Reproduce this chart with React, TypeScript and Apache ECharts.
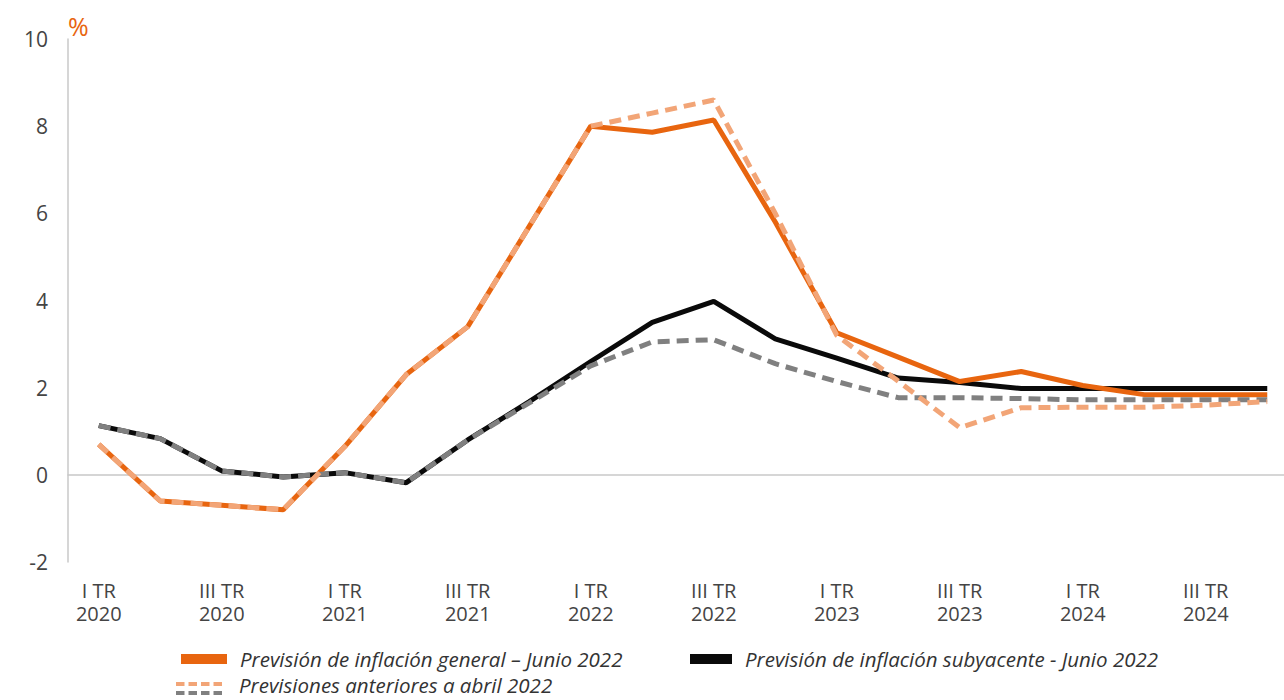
import React, { useEffect, useRef } from "react";
import * as echarts from "echarts";

const categories = [
  "I TR 2020", "II TR 2020", "III TR 2020", "IV TR 2020",
  "I TR 2021", "II TR 2021", "III TR 2021", "IV TR 2021",
  "I TR 2022", "II TR 2022", "III TR 2022", "IV TR 2022",
  "I TR 2023", "II TR 2023", "III TR 2023", "IV TR 2023",
  "I TR 2024", "II TR 2024", "III TR 2024", "IV TR 2024",
];

const generalJun22 = [0.7, -0.6, -0.7, -0.8, 0.65, 2.3, 3.4, 5.7, 8.0, 7.86, 8.14, 5.8, 3.26, 2.7, 2.14, 2.37, 2.05, 1.84, 1.84, 1.84];
const coreJun22 = [1.13, 0.83, 0.09, -0.05, 0.05, -0.18, 0.8, 1.68, 2.6, 3.5, 3.98, 3.12, 2.68, 2.22, 2.12, 1.98, 1.98, 1.98, 1.98, 1.98];
const generalApr22 = [0.7, -0.6, -0.7, -0.8, 0.65, 2.3, 3.4, 5.7, 8.0, 8.3, 8.6, 6.0, 3.2, 2.15, 1.08, 1.54, 1.55, 1.55, 1.6, 1.68];
const coreApr22 = [1.13, 0.83, 0.09, -0.05, 0.05, -0.18, 0.8, 1.65, 2.5, 3.05, 3.1, 2.55, 2.14, 1.77, 1.77, 1.75, 1.72, 1.72, 1.72, 1.72];

const yTicks = [-2, 0, 2, 4, 6, 8, 10];

const NAME_GEN = "Previsión de inflación general – Junio 2022";
const NAME_CORE = "Previsión de inflación subyacente - Junio 2022";
const NAME_PREV = "Previsiones anteriores a abril 2022";
const NAME_PREV_GEN = "Previsión general anterior (abril 2022)";
const NAME_PREV_CORE = "Previsión subyacente anterior (abril 2022)";

const ORANGE = "#E8650F";
const LIGHT_ORANGE = "#F2A577";
const GRAY = "#808080";
const BLACK = "#0A0A0A";
const FONT = "'Open Sans', 'Noto Sans', sans-serif";

export default function App() {
  const ref = useRef<HTMLDivElement>(null);

  useEffect(() => {
    document.body.style.margin = "0";
    if (!ref.current) return;
    const chart = echarts.init(ref.current, undefined, { renderer: "svg" });

    const legendText = {
      fontFamily: FONT,
      fontStyle: "italic",
      fontSize: 20.5,
      color: "#333333",
      padding: [0, 0, 0, 8],
    };

    const dashes = (y: number, color: string) =>
      [0, 1, 2, 3].map((i) => ({
        type: "rect",
        shape: { x: 176 + i * 12.5, y, width: 8.5, height: 4 },
        style: { fill: color },
      }));

    chart.setOption({
      animation: false,
      title: {
        text: "%",
        left: 63,
        top: 8,
        textStyle: { color: ORANGE, fontSize: 25, fontWeight: "normal", fontFamily: FONT },
      },
      grid: {
        left: 68,
        width: 1230,
        top: 39,
        bottom: 138,
        containLabel: false,
        outerBoundsMode: "none",
      },
      legend: [
        {
          data: [{ name: NAME_GEN, icon: "rect" }],
          left: 176,
          top: 644,
          itemWidth: 46,
          itemHeight: 10,
          textStyle: legendText,
          selectedMode: false,
        },
        {
          data: [{ name: NAME_CORE, icon: "rect" }],
          left: 685,
          top: 644,
          itemWidth: 42,
          itemHeight: 10,
          textStyle: legendText,
          selectedMode: false,
        },
      ],
      xAxis: {
        type: "category",
        data: categories,
        boundaryGap: true,
        axisLine: { show: true, lineStyle: { color: "#C8C8C8", width: 1.5 } },
        axisTick: { show: false },
        axisLabel: {
          interval: 1,
          margin: 17,
          fontSize: 20,
          lineHeight: 23,
          color: "#444444",
          fontFamily: FONT,
          formatter: (v: string) => v.replace(/ (\d{4})$/, "\n$1"),
        },
        splitLine: { show: false },
      },
      yAxis: {
        type: "value",
        min: yTicks[0],
        max: yTicks[yTicks.length - 1],
        interval: 2,
        axisLine: { show: true, lineStyle: { color: "#C8C8C8", width: 1.5 } },
        axisTick: { show: false },
        splitLine: { show: false },
        axisLabel: { margin: 20, fontSize: 21, color: "#444444", fontFamily: FONT },
      },
      graphic: [
        ...dashes(682, LIGHT_ORANGE),
        ...dashes(691, GRAY),
        {
          type: "text",
          left: 239,
          top: 675,
          style: {
            text: NAME_PREV,
            fontFamily: FONT,
            fontStyle: "italic",
            fontSize: 20.5,
            fill: "#333333",
          },
        },
      ],
      series: [
        {
          name: NAME_CORE,
          type: "line",
          data: coreJun22,
          showSymbol: false,
          symbol: "none",
          color: BLACK,
          lineStyle: { color: BLACK, width: 5 },
        },
        {
          name: NAME_GEN,
          type: "line",
          data: generalJun22,
          showSymbol: false,
          symbol: "none",
          color: ORANGE,
          lineStyle: { color: ORANGE, width: 5 },
        },
        {
          name: NAME_PREV_CORE,
          type: "line",
          data: coreApr22,
          showSymbol: false,
          symbol: "none",
          color: GRAY,
          lineStyle: { color: GRAY, width: 5, type: [12, 7] },
        },
        {
          name: NAME_PREV_GEN,
          type: "line",
          data: generalApr22,
          showSymbol: false,
          symbol: "none",
          color: LIGHT_ORANGE,
          lineStyle: { color: LIGHT_ORANGE, width: 5, type: [12, 7] },
        },
      ],
    });

    return () => chart.dispose();
  }, []);

  return <div ref={ref} style={{ width: 1284, height: 700 }} />;
}
